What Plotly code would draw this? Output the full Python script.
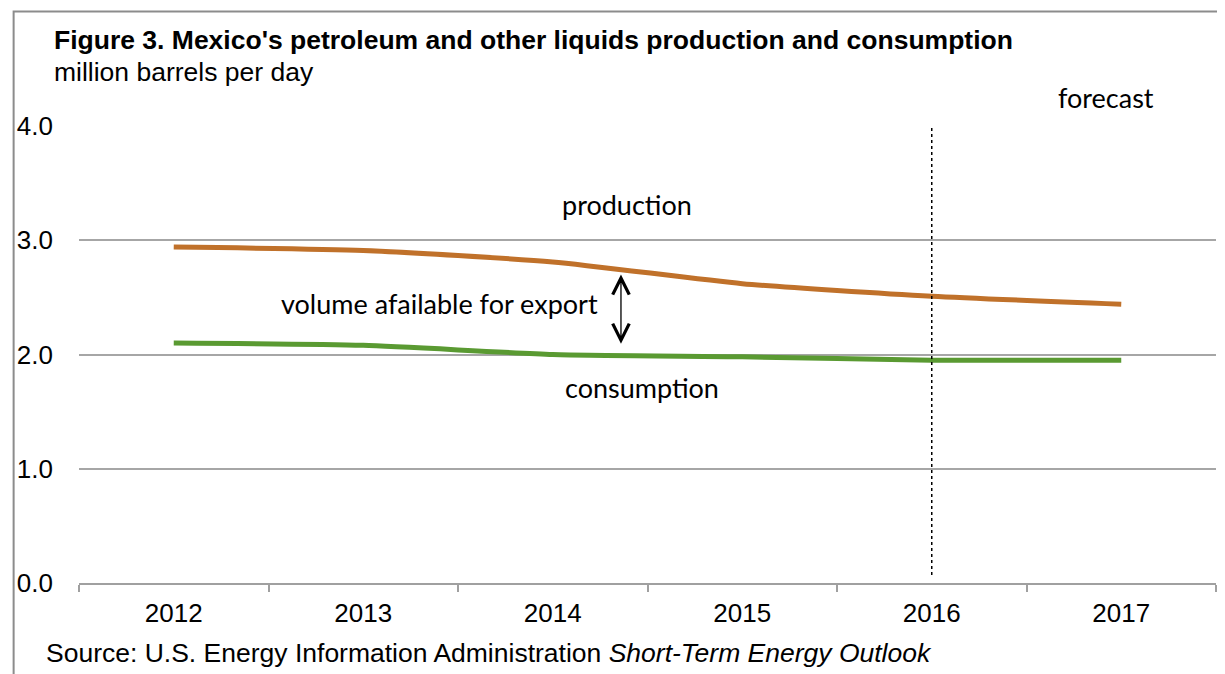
import plotly.graph_objects as go

years = ['2012', '2013', '2014', '2015', '2016', '2017']
production = [2.94, 2.91, 2.81, 2.62, 2.51, 2.44]
consumption = [2.10, 2.08, 2.00, 1.98, 1.95, 1.95]
forecast_start = 4  # index of 2016
y_ticks = [0, 1, 2, 3, 4]
y_labels = ['0.0', '1.0', '2.0', '3.0', '4.0']

arial = 'Arial, Liberation Sans, sans-serif'

fig = go.Figure()
fig.add_trace(go.Scatter(x=years, y=production, mode='lines',
                         line=dict(color='#C0712A', width=5, shape='spline', smoothing=0.6),
                         name='production', showlegend=False))
fig.add_trace(go.Scatter(x=years, y=consumption, mode='lines',
                         line=dict(color='#5A9A32', width=5, shape='spline', smoothing=0.6),
                         name='consumption', showlegend=False))

# forecast divider
fig.add_shape(type='line', xref='x', yref='y', x0=forecast_start, x1=forecast_start,
              y0=0.07, y1=4.0, line=dict(color='black', width=1.5, dash='dot'))

# outer frame
fig.add_shape(type='rect', xref='paper', yref='paper', x0=-0.0575, x1=1.03, y0=-0.3, y1=1.2505,
              line=dict(color='#8c8c8c', width=2), layer='below')

lbl = dict(family='Lato, Open Sans, sans-serif', size=27, color='black')
fig.add_annotation(x=2.39, y=3.31, text='production', showarrow=False, font=lbl)
fig.add_annotation(x=1.40, y=2.45, text='volume afailable for export', showarrow=False, font=lbl)
fig.add_annotation(x=2.47, y=1.71, text='consumption', showarrow=False, font=lbl)
fig.add_annotation(xref='paper', yref='paper', x=0.9035, y=1.0, xanchor='center', yanchor='middle',
                   yshift=29, text='forecast', showarrow=False, font=lbl)
# double-headed arrow
fig.add_annotation(x=2.36, y=2.70, ax=2.36, ay=2.08, axref='x', ayref='y', text='',
                   showarrow=True, arrowhead=5, startarrowhead=5, arrowside='end+start',
                   arrowwidth=1.3, arrowsize=2.5, startarrowsize=2.5, arrowcolor='black')

fig.add_annotation(xref='paper', yref='paper', x=-0.024, y=1.0, xanchor='left', yanchor='middle',
                   yshift=86, text="<b>Figure 3. Mexico's petroleum and other liquids production and consumption</b>",
                   showarrow=False, font=dict(family=arial, size=26.5, color='black'))
fig.add_annotation(xref='paper', yref='paper', x=-0.024, y=1.0, xanchor='left', yanchor='middle',
                   yshift=54, text='million barrels per day',
                   showarrow=False, font=dict(family=arial, size=26.5, color='black'))
fig.add_annotation(xref='paper', yref='paper', x=-0.031, y=0, xanchor='left', yanchor='middle',
                   yshift=-70, text='Source: U.S. Energy Information Administration <i>Short-Term Energy Outlook</i>',
                   showarrow=False, font=dict(family=arial, size=26.5, color='black'))

fig.update_xaxes(type='category', range=[-0.5, 5.5], tickson='boundaries', ticks='outside',
                 ticklen=7, tickwidth=2, tickcolor='#a0a0a0', showline=True, linecolor='#a0a0a0',
                 linewidth=2, showgrid=False, ticklabelstandoff=6,
                 tickfont=dict(family=arial, size=26, color='black'))
fig.update_yaxes(range=[0, 4.0], tickvals=y_ticks, ticktext=y_labels, showgrid=True,
                 gridcolor='#a6a6a6', gridwidth=2, zeroline=False, showline=False,
                 ticklabelstandoff=25,
                 tickfont=dict(family=arial, size=26, color='black'))

fig.update_layout(width=1217, height=666, margin=dict(l=68, r=9, t=118, b=91),
                  plot_bgcolor='white', paper_bgcolor='white')

fig.write_html("out.html")
